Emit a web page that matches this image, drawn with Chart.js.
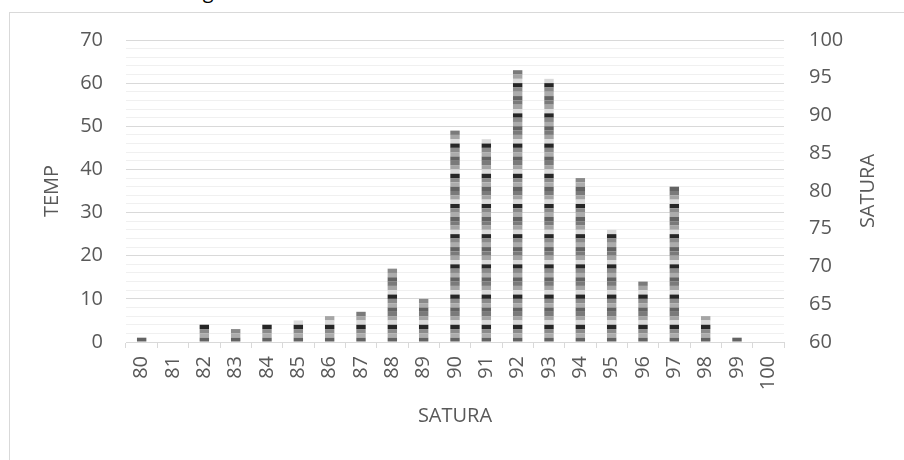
<!DOCTYPE html>
<html>
<head>
<meta charset="utf-8">
<script src="https://cdn.jsdelivr.net/npm/chart.js@4"></script>
<style>
  html, body { margin: 0; padding: 0; background: #fff; overflow: hidden; }
  #wrap { position: relative; width: 904px; height: 460px; overflow: hidden; }
  #frame { position: absolute; left: 9px; top: 12px; width: 1000px; height: 1000px; border: 1px solid #d9d9d9; }
  #heading { position: absolute; left: 45px; top: -19px; font: 20px/20px "Open Sans", sans-serif; color: #000; white-space: nowrap; }
  canvas { position: absolute; left: 0; top: 0; }
</style>
</head>
<body>
<div id="wrap">
  <div id="heading">Resultados de la gráfica</div>
  <div id="frame"></div>
  <canvas id="chart" width="904" height="460"></canvas>
</div>
<script>
// x categories (SATURA values)
const categories = ['80', '81', '82', '83', '84', '85', '86', '87', '88', '89', '90',
  '91', '92', '93', '94', '95', '96', '97', '98', '99', '100'];

// bar heights, one per category
const counts = [1, 0, 4, 3, 4, 5, 6, 7, 17, 10, 49, 47, 63, 61, 38, 26, 14, 36, 6, 1, 0];

// left axis (TEMP) and right axis (SATURA) ranges
const tempRange = [0, 70];
const saturaRange = [60, 100];

// grey shades the stacked segments cycle through, bottom up
const shades = ['#636363', '#acacac', '#8a8a8a', '#262626', '#dadada', '#a5a5a5', '#7a7a7a'];

// each bar is a stack of unit blocks, one dataset per block level
const maxCount = Math.max(...counts);
const datasets = [];
for (let i = 0; i < maxCount; i++) {
  datasets.push({
    label: 'S' + (i + 1),
    data: counts.map(c => (c > i ? 1 : 0)),
    backgroundColor: shades[i % shades.length],
    borderWidth: 0,
    barPercentage: 0.3,
    categoryPercentage: 1,
    yAxisID: 'y'
  });
}

Chart.defaults.font.family = '"Open Sans", sans-serif';
Chart.defaults.font.size = 20;
Chart.defaults.color = '#595959';

// right axis title reads bottom-to-top in the original, so draw it by hand
const rightTitle = {
  id: 'rightTitle',
  afterDraw(chart) {
    const s = chart.scales.y1;
    const ctx = chart.ctx;
    ctx.save();
    ctx.translate(s.right - 16, (s.top + s.bottom) / 2);
    ctx.rotate(-Math.PI / 2);
    ctx.font = '20px "Open Sans", sans-serif';
    ctx.fillStyle = '#595959';
    ctx.textAlign = 'center';
    ctx.textBaseline = 'middle';
    ctx.fillText('SATURA', 0, 0);
    ctx.restore();
  }
};

new Chart(document.getElementById('chart'), {
  type: 'bar',
  data: { labels: categories, datasets: datasets },
  options: {
    responsive: false,
    animation: false,
    layout: { padding: { left: 28, right: 20, top: 40, bottom: 22 } },
    plugins: { legend: { display: false }, tooltip: { enabled: false } },
    scales: {
      x: {
        stacked: true,
        grid: { drawOnChartArea: false, drawTicks: true, tickLength: 6, color: '#d9d9d9', offset: true },
        border: { display: true, color: '#d9d9d9' },
        ticks: { minRotation: 90, maxRotation: 90, padding: 8, autoSkip: false },
        title: { display: true, text: 'SATURA', padding: { top: 0, bottom: 10 } },
        afterFit: s => { s.height = 96; }
      },
      y: {
        stacked: true,
        position: 'left',
        min: tempRange[0],
        max: tempRange[1],
        grid: {
          drawTicks: false,
          color: c => (c.tick.value % 10 === 0 ? '#d9d9d9' : '#f0f0f0')
        },
        border: { display: false },
        ticks: {
          stepSize: 2,
          autoSkip: false,
          padding: 23,
          callback: v => (v % 10 === 0 ? v : '')
        },
        title: { display: true, text: 'TEMP', padding: { top: 12, bottom: 0 } },
        afterFit: s => { s.width = 98; }
      },
      y1: {
        position: 'right',
        min: saturaRange[0],
        max: saturaRange[1],
        grid: { drawOnChartArea: false, drawTicks: false },
        border: { display: false },
        ticks: { stepSize: 5, padding: 25 },
        title: { display: false },
        afterFit: s => { s.width = 100; }
      }
    }
  },
  plugins: [rightTitle]
});
</script>
</body>
</html>
